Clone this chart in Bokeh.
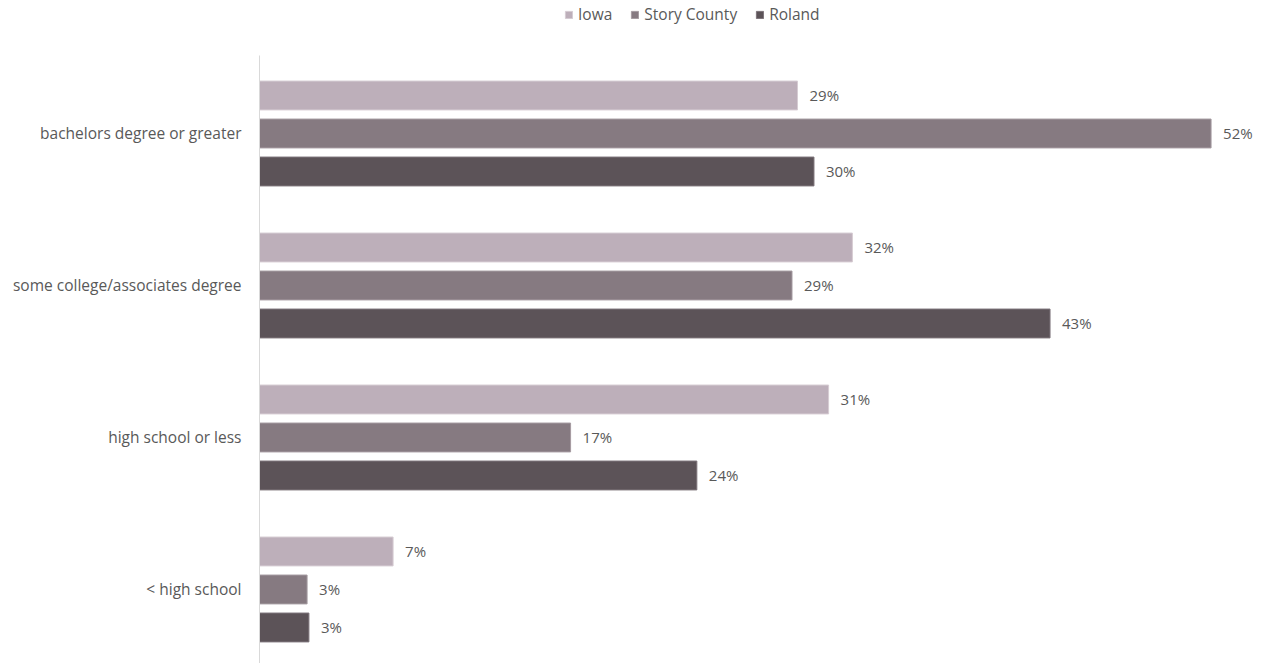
from bokeh.plotting import figure
from bokeh.models import ColumnDataSource, Range1d, FixedTicker, Legend, LegendItem
from bokeh.embed import file_html
from bokeh.resources import INLINE
from bokeh.core.properties import value

categories = ["bachelors degree or greater", "some college/associates degree", "high school or less", "< high school"]
series = ["Iowa", "Story County", "Roland"]
iowa = [29.4, 32.4, 31.1, 7.3]
story = [52.0, 29.1, 17.0, 2.6]
roland = [30.3, 43.2, 23.9, 2.7]
iowa_lbl = ["29%", "32%", "31%", "7%"]
story_lbl = ["52%", "29%", "17%", "3%"]
roland_lbl = ["30%", "43%", "24%", "3%"]
colors = ["#bdafba", "#867a81", "#5c5358"]
edge = ["#d6ccd3", "#a59ba1", "#7d747a"]

FONT = "Open Sans"

p = figure(width=1264, height=663, output_backend="svg", toolbar_location=None,
           x_range=Range1d(0, 54.92), y_range=Range1d(3.487, -0.875),
           min_border_left=259, min_border_right=0, min_border_top=0, min_border_bottom=0)

idx = list(range(len(categories)))
offsets = [-0.25, 0.0, 0.25]
legend_items = []
for vals, lbls, off, col, ec, name in zip([iowa, story, roland], [iowa_lbl, story_lbl, roland_lbl],
                                          offsets, colors, edge, series):
    src = ColumnDataSource(dict(y=[i + off for i in idx], v=vals, lbl=lbls))
    r = p.hbar(y="y", right="v", left=0, height=0.19, source=src,
               fill_color=col, line_color=ec, line_width=1)
    p.text(x="v", y="y", text="lbl", source=src, x_offset=12,
           text_baseline="middle", text_align="left", text_font=value(FONT),
           text_font_size="15px", text_color="#595959")
    legend_items.append(LegendItem(label=name, renderers=[r]))

legend = Legend(items=legend_items, orientation="horizontal", location=(305, 638),
                label_text_font=FONT, label_text_font_size="15.5px", label_text_color="#595959",
                glyph_width=9, glyph_height=9, label_standoff=5, spacing=18,
                padding=0, margin=0, border_line_color=None, background_fill_alpha=0)
p.add_layout(legend)

p.xaxis.visible = False
p.xgrid.visible = False
p.ygrid.visible = False
p.outline_line_color = None

p.yaxis.ticker = FixedTicker(ticks=idx)
p.yaxis.bounds = (-0.51, 3.49)
p.yaxis.major_label_overrides = {i: c for i, c in zip(idx, categories)}
p.yaxis.major_tick_line_color = None
p.yaxis.minor_tick_line_color = None
p.yaxis.major_tick_out = 0
p.yaxis.major_label_standoff = 18
p.yaxis.axis_line_color = "#d9d9d9"
p.yaxis.major_label_text_font = FONT
p.yaxis.major_label_text_font_size = "15.5px"
p.yaxis.major_label_text_color = "#595959"

open("out.html", "w").write(file_html(p, INLINE))
